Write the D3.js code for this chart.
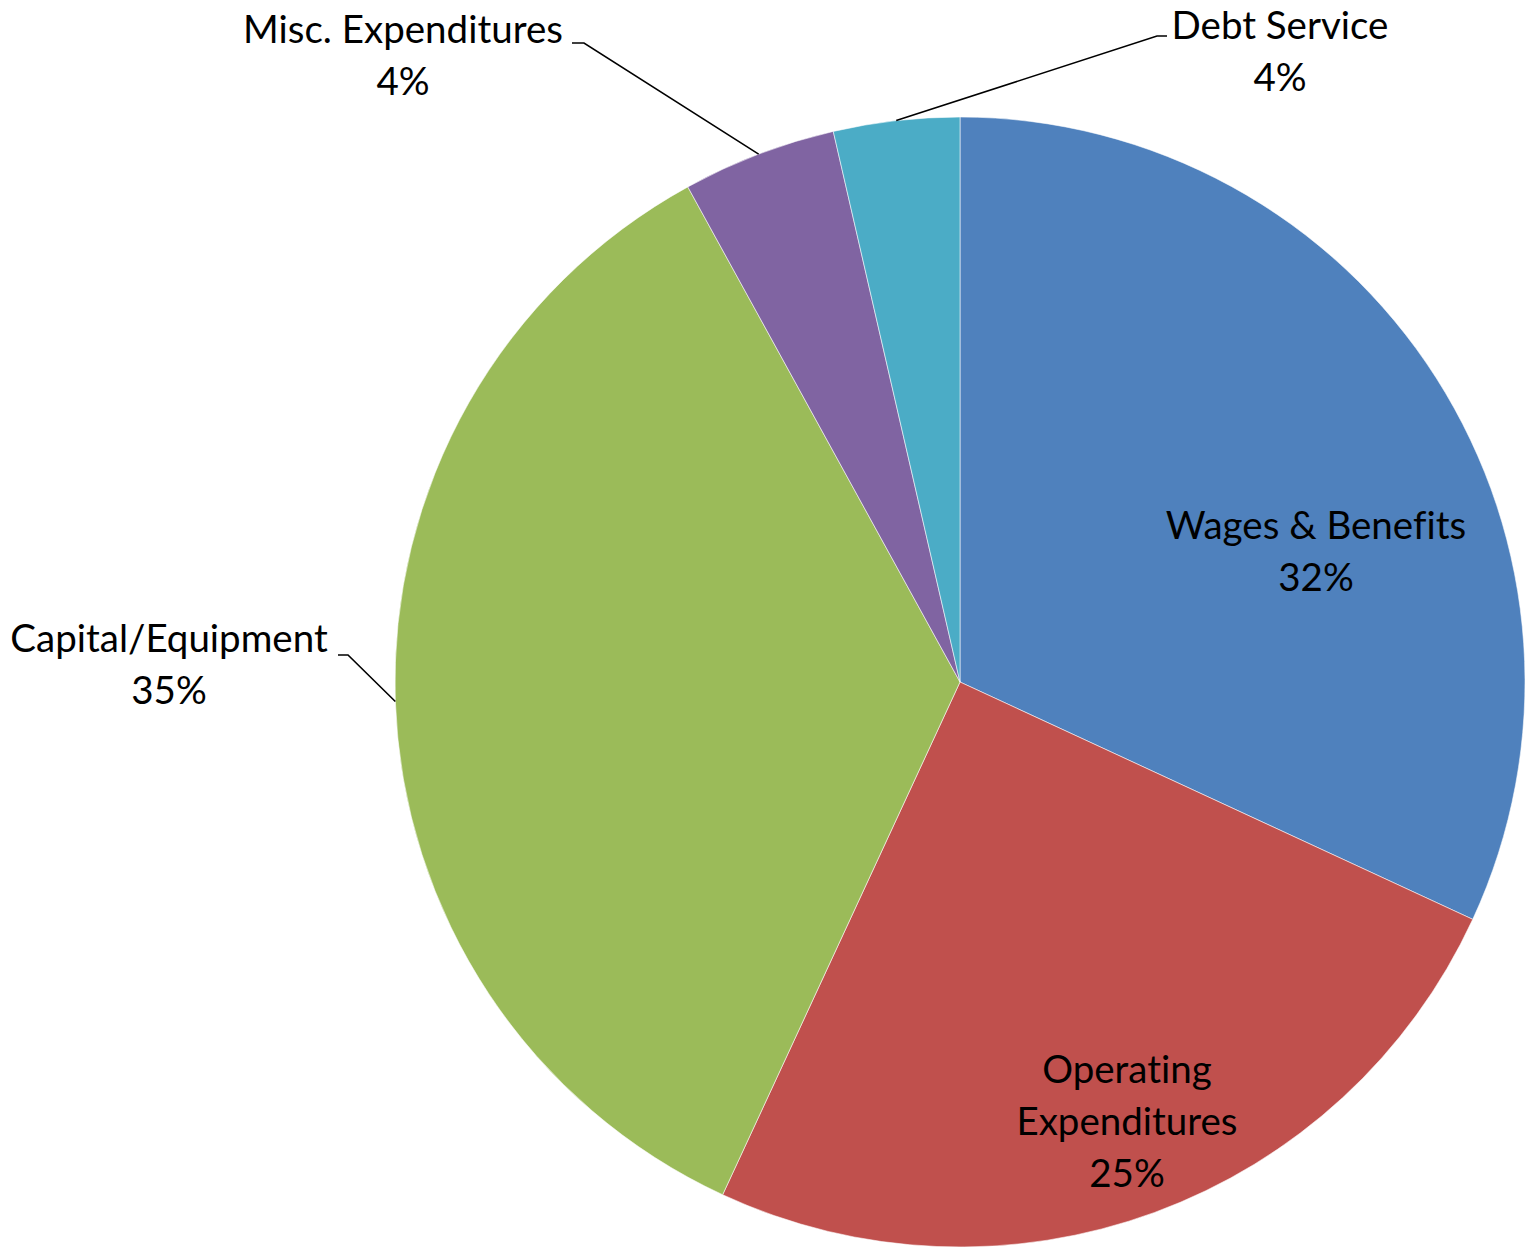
<!DOCTYPE html>
<html>
<head>
<meta charset="utf-8">
<script src="https://cdn.jsdelivr.net/npm/d3@7"></script>
<style>
  html, body { margin: 0; padding: 0; background: #ffffff; }
  svg { display: block; }
  text { font-family: Lato, "Open Sans", sans-serif; fill: #000; font-variant-ligatures: none; }
</style>
</head>
<body>
<svg id="chart" width="1526" height="1248"></svg>
<script>
// Spending categories and their share of the budget (percent)
const categories = ["Wages & Benefits", "Operating Expenditures", "Capital/Equipment", "Misc. Expenditures", "Debt Service"];
const shares = [31.9, 25.0, 35.1, 4.4, 3.6];
const colors = ["#4F81BD", "#C0504D", "#9BBB59", "#8064A2", "#4BACC6"];

// Label placement: centre x, first baseline, line breaks, and leader (if outside)
const labelLayout = [
  { x: 1316, y: 539, lines: ["Wages & Benefits"] },
  { x: 1127, y: 1083, lines: ["Operating", "Expenditures"] },
  { x: 169, y: 652, lines: ["Capital/Equipment"], leader: { hx0: 338, hx1: 348, hy: 655 } },
  { x: 403, y: 43, lines: ["Misc. Expenditures"], leader: { hx0: 572, hx1: 584, hy: 43 } },
  { x: 1280, y: 39, lines: ["Debt Service"], leader: { hx0: 1167, hx1: 1157, hy: 36 } }
];

const width = 1526, height = 1248;
const cx = 960, cy = 682, radius = 565;
const fontSize = 38.5, lineStep = 52;

const data = categories.map((name, i) => ({ name, value: shares[i], color: colors[i], layout: labelLayout[i] }));
const total = d3.sum(shares);
const pct = d3.format(".0%");

const pie = d3.pie().value(d => d.value).sort(null);
const arcs = pie(data);
const arc = d3.arc().innerRadius(0).outerRadius(radius);
const edge = d3.arc().innerRadius(radius).outerRadius(radius);

const svg = d3.select("#chart");
const g = svg.append("g").attr("transform", `translate(${cx},${cy})`);

g.selectAll("path.slice")
  .data(arcs)
  .join("path")
  .attr("class", "slice")
  .attr("d", arc)
  .attr("fill", d => d.data.color)
  .attr("stroke", "rgba(255,255,255,0.55)")
  .attr("stroke-width", 1);

// Leader lines for labels placed outside the pie
const leaders = svg.append("g");
arcs.filter(d => d.data.layout.leader).forEach(d => {
  const L = d.data.layout.leader;
  const [px, py] = edge.centroid(d);
  leaders.append("polyline")
    .attr("points", [[cx + px, cy + py], [L.hx1, L.hy], [L.hx0, L.hy]].map(p => p.join(",")).join(" "))
    .attr("fill", "none")
    .attr("stroke", "#000")
    .attr("stroke-width", 1.6);
});

// Category name and percentage labels
const labels = svg.append("g");
arcs.forEach(d => {
  const lay = d.data.layout;
  const lines = lay.lines.concat([pct(d.data.value / total)]);
  const t = labels.append("text")
    .attr("text-anchor", "middle")
    .attr("font-size", fontSize);
  lines.forEach((s, i) => {
    t.append("tspan").attr("x", lay.x).attr("y", lay.y + i * lineStep).text(s);
  });
});
</script>
</body>
</html>
